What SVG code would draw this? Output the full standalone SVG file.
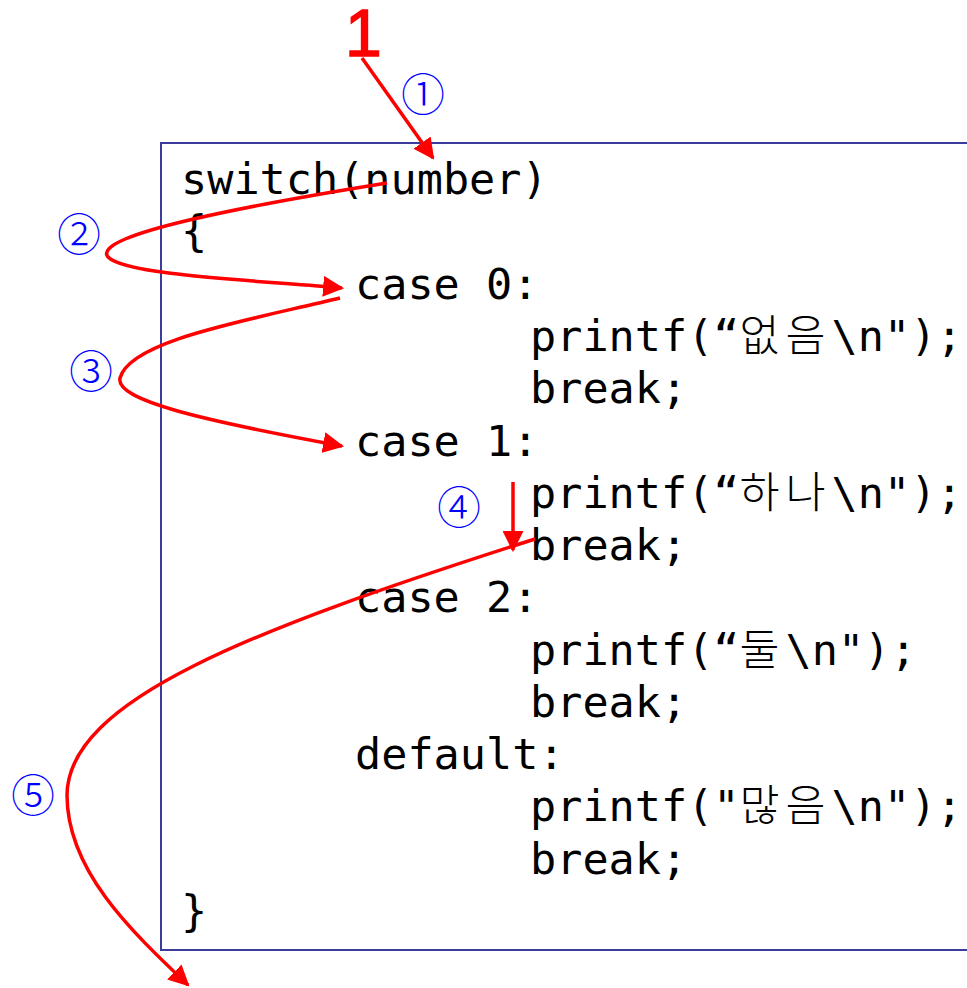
<svg xmlns="http://www.w3.org/2000/svg" width="967" height="988" viewBox="0 0 967 988">
<style>
.code{font-family:"DejaVu Sans Mono","Noto Sans CJK KR",monospace;font-size:43.5px;fill:#000}
.ko{font-family:"Noto Sans CJK KR",sans-serif;font-weight:300;letter-spacing:6px}
.num{font-family:"Noto Sans CJK KR","DejaVu Sans",sans-serif;font-size:44px;font-weight:300;fill:#0000ff}
.arr{fill:none;stroke:#ff0000;stroke-width:3.5;marker-end:url(#ah)}
</style>
<defs>
<marker id="ah" viewBox="0 0 10 10" refX="9" refY="5" markerWidth="6" markerHeight="6" orient="auto" markerUnits="strokeWidth">
<path d="M0,0 L10,5 L0,10 z" fill="#ff0000"/>
</marker>
</defs>
<rect width="967" height="988" fill="#fff"/>
<g id="box">
<path d="M975 143 L161 143 L161 950 L975 950" fill="none" stroke="#3c3c9c" stroke-width="2"/>
</g>
<g id="code">
<text class="code" x="181" y="194">switch(number)</text>
<text class="code" x="181" y="246">{</text>
<text class="code" x="355" y="299">case 0:</text>
<text class="code" x="530" y="351">printf(“<tspan class="ko">없음</tspan>\n");</text>
<text class="code" x="530" y="403">break;</text>
<text class="code" x="355" y="456">case 1:</text>
<text class="code" x="530" y="508">printf(“<tspan class="ko">하나</tspan>\n");</text>
<text class="code" x="530" y="560">break;</text>
<text class="code" x="355" y="612">case 2:</text>
<text class="code" x="530" y="665">printf(“<tspan class="ko">둘</tspan>\n");</text>
<text class="code" x="530" y="717">break;</text>
<text class="code" x="355" y="769">default:</text>
<text class="code" x="530" y="821">printf("<tspan class="ko">많음</tspan>\n");</text>
<text class="code" x="530" y="874">break;</text>
<text class="code" x="181" y="926">}</text>
</g>
<g id="title">
<text x="345" y="56" font-family="Liberation Sans,Arial,sans-serif" font-size="66" fill="#ff0000" stroke="#ff0000" stroke-width="1.5">1</text>
</g>
<g id="labels">
<text class="num" x="423" y="111" text-anchor="middle">①</text>
<text class="num" x="79" y="251" text-anchor="middle">②</text>
<text class="num" x="91" y="388" text-anchor="middle">③</text>
<text class="num" x="459" y="524" text-anchor="middle">④</text>
<text class="num" x="33" y="812" text-anchor="middle">⑤</text>
</g>
<g id="connectors">
<path class="arr" d="M362 58 L433 158"/>
<path class="arr" d="M387 183 C250 205 90 235 108 257 C125 275 250 280 342 288"/>
<path class="arr" d="M340 298 C250 320 130 340 120 378 C115 400 200 420 342 446"/>
<path class="arr" d="M513 482 L513 550"/>
<path class="arr" d="M535 539 C250 630 68 700 67 795 C67 870 130 930 188 985"/>
</g>
</svg>
